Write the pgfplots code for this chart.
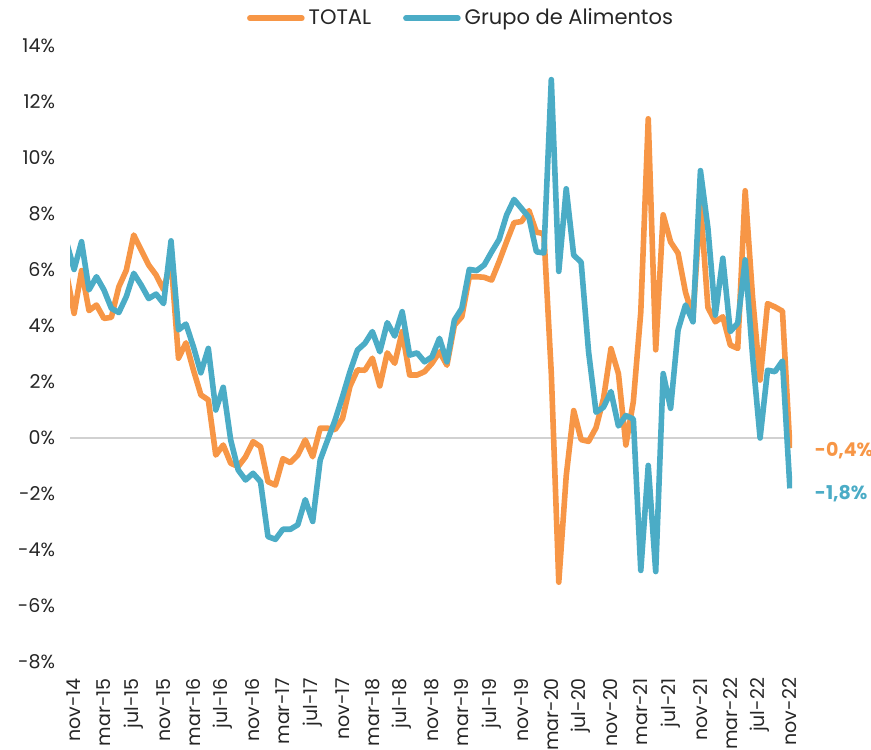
\documentclass[border=0pt]{standalone}
\usepackage{fontspec}
\setmainfont{Poppins}
\usepackage{pgfplots}
\pgfplotsset{compat=1.18}
\definecolor{cOr}{HTML}{F79646}
\definecolor{cBl}{HTML}{4BACC6}
\definecolor{txt}{HTML}{262626}
\begin{document}
\begin{tikzpicture}
\path[use as bounding box] (-35pt,-43.5pt) rectangle (400.5pt,331pt);
\begin{axis}[
  at={(0,0)}, anchor=south west,
  scale only axis, width=361pt, height=308pt,
  xmin=-0.55, xmax=96.28, ymin=-8, ymax=14,
  axis line style={draw=none}, major tick length=0pt,
  xtick={0,4,...,96},
  xticklabels={nov-14,mar-15,jul-15,nov-15,mar-16,jul-16,nov-16,mar-17,jul-17,nov-17,mar-18,jul-18,nov-18,mar-19,jul-19,nov-19,mar-20,jul-20,nov-20,mar-21,jul-21,nov-21,mar-22,jul-22,nov-22},
  ytick={-8,-6,...,14},
  yticklabels={-8\%,-6\%,-4\%,-2\%,0\%,2\%,4\%,6\%,8\%,10\%,12\%,14\%},
  tick label style={font=\fontsize{9.5}{11}\selectfont, text=txt},
  xticklabel style={rotate=90, anchor=east},
  xticklabel shift=4.5pt, yticklabel shift=4pt,
  extra y ticks={0}, extra y tick labels={},
  extra y tick style={grid=major, major grid style={draw=black!18, line width=1pt}},
  clip=true,
  legend style={at={(0.543,1.045)}, anchor=center, draw=none, fill=none,
    legend columns=2, font=\fontsize{10.5}{12}\selectfont, text=txt,
    /tikz/every even column/.append style={column sep=14pt}},
  legend image code/.code={\draw[#1, line cap=round] (0pt,0pt) -- (26pt,0pt);},
  every axis plot/.append style={line width=2.8pt, line join=round},
]
\addplot[cOr] coordinates {(-1,5.85) (0,4.45) (1,5.98) (2,4.55) (3,4.75) (4,4.27) (5,4.31) (6,5.4) (7,5.99) (8,7.25) (9,6.71) (10,6.18) (11,5.82) (12,5.29) (13,6.36) (14,2.85) (15,3.4) (16,2.43) (17,1.54) (18,1.36) (19,-0.61) (20,-0.25) (21,-0.9) (22,-1.02) (23,-0.67) (24,-0.13) (25,-0.31) (26,-1.56) (27,-1.68) (28,-0.74) (29,-0.88) (30,-0.61) (31,-0.07) (32,-0.67) (33,0.35) (34,0.35) (35,0.3) (36,0.7) (37,1.85) (38,2.43) (39,2.42) (40,2.85) (41,1.86) (42,3.04) (43,2.67) (44,3.8) (45,2.25) (46,2.25) (47,2.37) (48,2.67) (49,3.08) (50,2.6) (51,4.03) (52,4.33) (53,5.76) (54,5.76) (55,5.74) (56,5.64) (57,6.3) (58,7.01) (59,7.69) (60,7.73) (61,8.12) (62,7.35) (63,7.3) (64,2.3) (65,-5.15) (66,-1.35) (67,0.98) (68,-0.06) (69,-0.12) (70,0.37) (71,1.41) (72,3.19) (73,2.3) (74,-0.25) (75,1.3) (76,4.5) (77,11.4) (78,3.15) (79,7.97) (80,7.0) (81,6.6) (82,5.2) (83,4.33) (84,8.4) (85,4.66) (86,4.15) (87,4.33) (88,3.32) (89,3.2) (90,8.83) (91,5.0) (92,2.07) (93,4.8) (94,4.68) (95,4.53) (96,-0.36)};
\addlegendentry{TOTAL}
\addplot[cBl] coordinates {(-1,6.98) (0,6.02) (1,7.01) (2,5.29) (3,5.76) (4,5.29) (5,4.63) (6,4.48) (7,5.05) (8,5.88) (9,5.46) (10,4.98) (11,5.14) (12,4.8) (13,7.04) (14,3.86) (15,4.07) (16,3.26) (17,2.33) (18,3.2) (19,1.0) (20,1.81) (21,-0.07) (22,-1.14) (23,-1.5) (24,-1.26) (25,-1.56) (26,-3.52) (27,-3.62) (28,-3.26) (29,-3.26) (30,-3.1) (31,-2.2) (32,-2.98) (33,-0.79) (34,-0.07) (35,0.64) (36,1.48) (37,2.37) (38,3.14) (39,3.38) (40,3.8) (41,3.08) (42,4.12) (43,3.64) (44,4.51) (45,2.96) (46,3.04) (47,2.72) (48,2.9) (49,3.56) (50,2.72) (51,4.21) (52,4.63) (53,6.02) (54,5.98) (55,6.18) (56,6.65) (57,7.09) (58,7.96) (59,8.52) (60,8.2) (61,7.88) (62,6.65) (63,6.61) (64,12.8) (65,5.95) (66,8.9) (67,6.53) (68,6.28) (69,3.07) (70,0.92) (71,1.1) (72,1.66) (73,0.43) (74,0.8) (75,0.68) (76,-4.73) (77,-0.98) (78,-4.77) (79,2.3) (80,1.06) (81,3.86) (82,4.75) (83,4.15) (84,9.55) (85,7.5) (86,4.39) (87,6.42) (88,3.8) (89,4.1) (90,6.36) (91,2.9) (92,0.0) (93,2.42) (94,2.37) (95,2.75) (96,-1.8)};
\addlegendentry{Grupo de Alimentos}
\coordinate (endO) at (axis cs:96,-0.36);
\coordinate (endB) at (axis cs:96,-1.8);
\end{axis}
\node[anchor=west, text=cOr, font=\bfseries\fontsize{9.5}{11}\selectfont, xshift=9pt, yshift=-1.5pt] at (endO) {-0,4\%};
\node[anchor=west, text=cBl, font=\bfseries\fontsize{9.5}{11}\selectfont, xshift=9pt, yshift=-2.5pt] at (endB) {-1,8\%};
\end{tikzpicture}
\end{document}
